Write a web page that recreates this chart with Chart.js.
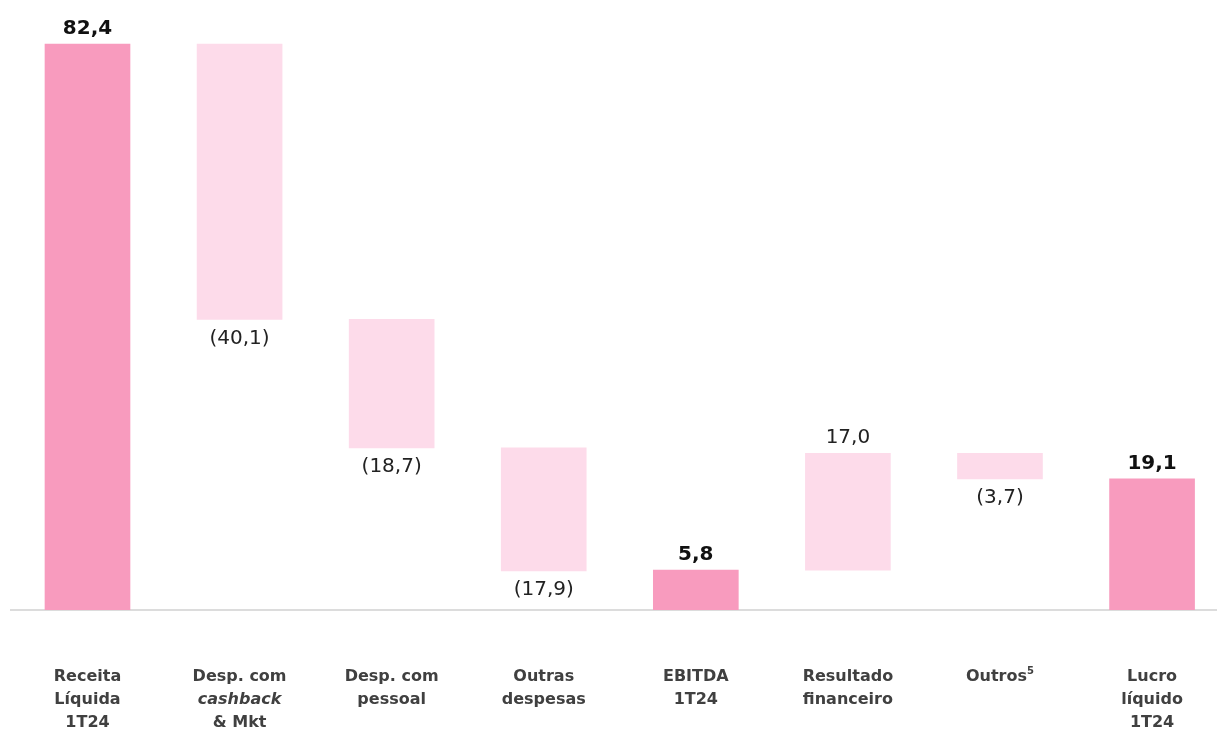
<!DOCTYPE html>
<html>
<head>
<meta charset="utf-8">
<script src="https://cdn.jsdelivr.net/npm/chart.js@4"></script>
<style>
  html, body { margin: 0; padding: 0; background: #ffffff; overflow: hidden; }
  #wrap { position: relative; width: 1217px; height: 733px; }
</style>
</head>
<body>
<div id="wrap"><canvas id="c"></canvas></div>
<script>
// ---- data ----
const categories = [
  ["Receita", "Líquida", "1T24"],
  ["Desp. com", "*cashback*", "& Mkt"],
  ["Desp. com", "pessoal"],
  ["Outras", "despesas"],
  ["EBITDA", "1T24"],
  ["Resultado", "financeiro"],
  ["Outros^5"],
  ["Lucro", "líquido", "1T24"]
];
const values = [82.4, -40.1, -18.7, -17.9, 5.8, 17.0, -3.7, 19.1];
const isTotal = [true, false, false, false, true, false, false, true];

// ---- build floating bars ----
const bars = [];
let running = 0;
values.forEach((v, i) => {
  if (isTotal[i]) { bars.push({ x: i, y: [0, v] }); running = v; }
  else { const a = running, b = running + v; bars.push({ x: i, y: [Math.min(a, b), Math.max(a, b)] }); running = b; }
});

const totalColor = '#F89BBE';
const deltaColor = '#FDDBEA';

function fmt(v) {
  const s = Math.abs(v).toFixed(1).replace('.', ',');
  return v < 0 ? '(' + s + ')' : s;
}

const valueLabels = {
  id: 'valueLabels',
  afterDatasetsDraw(chart) {
    const ctx = chart.ctx;
    const meta = chart.getDatasetMeta(0);
    const ys = chart.scales.y;
    ctx.save();
    ctx.textAlign = 'center';
    meta.data.forEach((el, i) => {
      const v = values[i];
      const b = bars[i].y;
      const x = el.x;
      if (isTotal[i]) {
        ctx.font = 'bold 20px "DejaVu Sans"';
        ctx.fillStyle = '#111111';
        ctx.textBaseline = 'alphabetic';
        ctx.fillText(fmt(v), x, ys.getPixelForValue(b[1]) - 10);
      } else if (v >= 0) {
        ctx.font = '20px "DejaVu Sans"';
        ctx.fillStyle = '#222222';
        ctx.textBaseline = 'alphabetic';
        ctx.fillText(fmt(v), x, ys.getPixelForValue(b[1]) - 10);
      } else {
        ctx.font = '20px "DejaVu Sans"';
        ctx.fillStyle = '#222222';
        ctx.textBaseline = 'middle';
        ctx.fillText(fmt(v), x, ys.getPixelForValue(b[0]) + 19);
      }
    });
    ctx.restore();
  }
};

const catLabels = {
  id: 'catLabels',
  afterDraw(chart) {
    const ctx = chart.ctx;
    const xs = chart.scales.x;
    const base = 'bold 16px "DejaVu Sans"';
    const ital = 'italic bold 16px "DejaVu Sans"';
    const sup = 'bold 10px "DejaVu Sans"';
    ctx.save();
    ctx.fillStyle = '#404040';
    ctx.textBaseline = 'middle';
    ctx.textAlign = 'left';
    categories.forEach((lines, i) => {
      const cx = xs.getPixelForValue(i);
      lines.forEach((line, j) => {
        const y = 677 + j * 23;
        let segs;
        if (line.startsWith('*') && line.endsWith('*')) segs = [{ t: line.slice(1, -1), f: ital, dy: 0 }];
        else if (line.includes('^')) { const p = line.split('^'); segs = [{ t: p[0], f: base, dy: 0 }, { t: p[1], f: sup, dy: -6 }]; }
        else segs = [{ t: line, f: base, dy: 0 }];
        let w = 0;
        segs.forEach(s => { ctx.font = s.f; s.w = ctx.measureText(s.t).width; w += s.w; });
        let x = cx - w / 2;
        segs.forEach(s => { ctx.font = s.f; ctx.fillText(s.t, x, y + s.dy); x += s.w; });
      });
    });
    ctx.restore();
  }
};

new Chart(document.getElementById('c'), {
  type: 'bar',
  data: {
    datasets: [{
      data: bars,
      backgroundColor: isTotal.map(t => t ? totalColor : deltaColor),
      borderWidth: 0,
      barThickness: 85
    }]
  },
  options: {
    responsive: true,
    maintainAspectRatio: false,
    animation: false,
    layout: { padding: { left: 11, right: 0, top: 0, bottom: 123 } },
    plugins: { legend: { display: false }, tooltip: { enabled: false } },
    scales: {
      x: {
        type: 'linear',
        offset: false,
        min: -0.503,
        max: 7.427,
        ticks: { display: false },
        grid: { display: false },
        border: { display: true, color: '#DCDCDC', width: 2 },
        afterFit(scale) { scale.height = 0; }
      },
      y: {
        display: false,
        min: 0,
        max: 88.8
      }
    }
  },
  plugins: [valueLabels, catLabels]
});
</script>
</body>
</html>
